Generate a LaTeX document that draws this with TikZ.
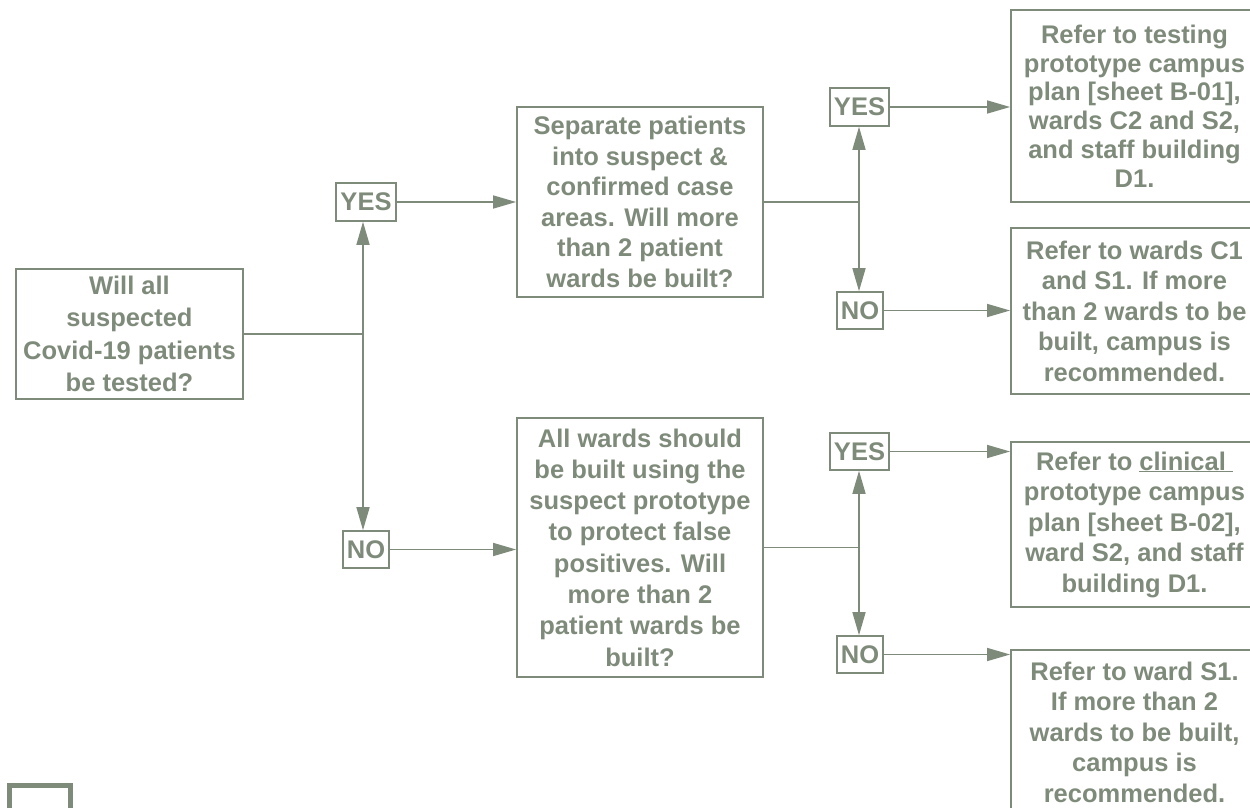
\documentclass[tikz,border=0pt]{standalone}
\usepackage{fontspec}
\setmainfont{Liberation Sans}
\usetikzlibrary{arrows.meta}
\definecolor{sage}{RGB}{127,139,122}
\begin{document}
\begin{tikzpicture}[x=1pt,y=-1pt,
  box/.style={draw=sage, line width=1.8pt, text=sage, align=center,
    font=\fontsize{25.5}{30.5}\selectfont\bfseries, inner sep=0pt},
  lbl/.style={draw=sage, line width=1.6pt, text=sage,
    font=\fontsize{25.5}{30}\selectfont\bfseries, inner sep=0pt},
  conn/.style={draw=sage, line width=1.5pt},
  arr/.style={conn, -{Triangle[length=23pt,width=13pt]}}]
\useasboundingbox (0,0) rectangle (1250,808);
\fill[white] (0,0) rectangle (1250,808);
\clip (0,0) rectangle (1250,808);

% main boxes
\node[box, font=\fontsize{25.5}{32.5}\selectfont\bfseries,
  minimum width=227pt, minimum height=130pt] (A) at (129.5,334)
  {Will all\\suspected\\Covid-19 patients\\be tested?};
\node[box, minimum width=246pt, minimum height=190pt] (B) at (640,202)
  {Separate patients\\into suspect \&\\confirmed case\\areas. Will more\\than 2 patient\\wards be built?};
\node[box, font=\fontsize{25.5}{31.3}\selectfont\bfseries,
  minimum width=246pt, minimum height=259pt] (E) at (640,547.5)
  {All wards should\\be built using the\\suspect prototype\\to protect false\\positives. Will\\more than 2\\patient wards be\\built?};
\node[box, font=\fontsize{25.5}{28.8}\selectfont\bfseries,
  minimum width=247pt, minimum height=192pt] (C) at (1134.5,106)
  {Refer to testing\\prototype campus\\plan [sheet B-01],\\wards C2 and S2,\\and staff building\\D1.};
\node[box, minimum width=247pt, minimum height=166pt] (D) at (1134.5,311)
  {Refer to wards C1\\and S1. If more\\than 2 wards to be\\built, campus is\\recommended.};
\node[box, minimum width=247pt, minimum height=165pt] (F) at (1134.5,524.5)
  {Refer to \underline{clinical\ }\\prototype campus\\plan [sheet B-02],\\ward S2, and staff\\building D1.};
\node[box, minimum width=247pt, minimum height=164pt] (G) at (1134.5,732)
  {Refer to ward S1.\\If more than 2\\wards to be built,\\campus is\\recommended.};

% yes / no labels
\node[lbl, minimum width=60pt, minimum height=38pt] (Y1) at (366,202) {YES};
\node[lbl, minimum width=46pt, minimum height=37pt] (N1) at (366,549.5) {NO};
\node[lbl, minimum width=59pt, minimum height=38pt] (Y2) at (859.5,107) {YES};
\node[lbl, minimum width=46pt, minimum height=37pt] (N2) at (860,310.5) {NO};
\node[lbl, minimum width=59pt, minimum height=37pt] (Y3) at (859.5,451.5) {YES};
\node[lbl, minimum width=46pt, minimum height=37pt] (N3) at (860,654.5) {NO};

% junctions
\coordinate (j1) at (363,334);
\coordinate (j2) at (859,202);
\coordinate (j3) at (859,547.5);

% connectors
\draw[conn] (A.east) -- (j1);
\draw[arr] (j1) -- (j1 |- Y1.south);
\draw[arr] (j1) -- (j1 |- N1.north);
\draw[arr] (Y1.east) -- (Y1.east -| B.west);
\draw[arr] (N1.east) -- (N1.east -| E.west);

\draw[conn] (B.east) -- (j2);
\draw[arr] (j2) -- (j2 |- Y2.south);
\draw[arr] (j2) -- (j2 |- N2.north);
\draw[arr] (Y2.east) -- (Y2.east -| C.west);
\draw[arr] (N2.east) -- (N2.east -| D.west);

\draw[conn] (E.east) -- (j3);
\draw[arr] (j3) -- (j3 |- Y3.south);
\draw[arr] (j3) -- (j3 |- N3.north);
\draw[arr] (Y3.east) -- (Y3.east -| F.west);
\draw[arr] (N3.east) -- (N3.east -| G.west);

% partial square at bottom left
\draw[sage, line width=5.3pt] (9.7,830) -- (9.7,785.7) -- (70.3,785.7) -- (70.3,830);
\end{tikzpicture}
\end{document}
